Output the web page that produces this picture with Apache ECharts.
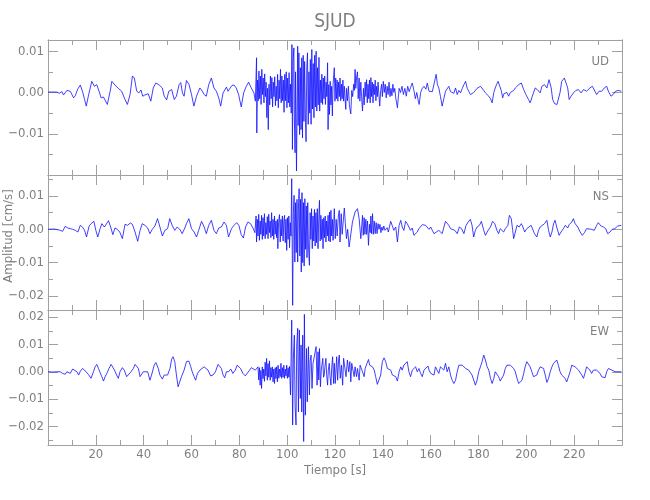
<!DOCTYPE html>
<html><head><meta charset="utf-8">
<script src="https://cdn.jsdelivr.net/npm/echarts@6/dist/echarts.min.js"></script>
<style>html,body{margin:0;padding:0;background:#fff}#c{width:650px;height:500px}</style>
</head><body><div id="c"></div>
<script>
// ---------- texts ----------
const chartTitle = 'SJUD';
const xName = 'Tiempo [s]';
const yName = 'Amplitud [cm/s]';
const components = ['UD', 'NS', 'EW'];

// ---------- axes (values in 10^-3 cm/s for y, seconds for x) ----------
const unit = 1e-3;
const timeRange = [0, 240];
const timeMajor = 20;
const udRange = [-19.98, 12.71];
const nsRange = [-24.2, 16.3];
const ewRange = [-26.8, 22.6];
const udMajor = [-10, 0, 10];
const udMinor = [-15, -5, 5];
const nsMajor = [-20, -10, 0, 10];
const nsMinor = [-15, -5, 5, 15];
const ewMajor = [-20, -10, 0, 10, 20];
const ewMinor = [-25, -15, -5, 5, 15];

// ---------- traces: [time s, amplitude 10^-3 cm/s] ----------
const udTrace = [[0,0.1],[3.7,0.1],[4.7,-0.2],[5.8,0.2],[6.5,-0.6],[7.9,0.5],[9.3,0.3],[10,0.6],[10.7,-1.3],[11.4,-0.8],[12.4,0.8],[13.5,1.8],[14.4,0.3],[15.3,-1.7],[16,-3.3],[17,-0.5],[18.3,2.7],[19.4,1.5],[20.4,1.9],[21.4,0.2],[22.2,-1.3],[23.2,-1.1],[24.8,-2.9],[26,0.3],[26.7,2.7],[28,1.8],[29.4,1.0],[30.8,0.3],[32.2,-1.7],[33.2,-2.9],[34.3,-0.5],[35.3,4.0],[36.1,3.5],[37.1,0.3],[38,-0.1],[38.9,0.6],[39.6,-0.9],[40.5,-0.6],[41.9,-0.3],[43,-2.1],[44,1.1],[45.1,2.3],[46.5,1.8],[47.8,1.1],[48.6,-0.9],[49.6,-1.8],[50.5,0.3],[51.7,0.7],[52.8,-1.7],[53.7,-0.9],[54.8,1.9],[55.5,2.4],[56.2,-0.1],[56.9,-0.9],[57.9,2.9],[59,1.9],[60,-0.5],[61,-3.3],[62.1,-0.9],[63.5,1.1],[64.2,0.6],[65.3,-0.5],[66.2,-0.9],[67.2,1.9],[68.3,3.5],[69.4,1.1],[70.4,0.3],[71.4,-1.3],[72.2,-3.3],[73.2,-0.1],[74.6,1.3],[75.3,0.3],[76.1,0.6],[76.9,1.7],[77.8,1.8],[78.7,1.1],[79.7,-0.5],[80.8,-3.5],[81.8,-0.1],[82.9,1.5],[83.9,2.5],[85,1.1],[86.1,-0.1],[86.7,-2.1],
[87.2,8.4],[87.3,-9.8],[87.6,3.0],[87.9,-2.0],[88.2,5.2],[88.5,-1.5],[88.8,4.0],[89.1,-2.9],[89.4,5.6],[89.7,-0.5],[90,3.5],[90.3,-2.5],[90.6,4.5],[90.9,-1.0],[91.2,2.5],[91.5,-6.1],[91.8,1.0],[92.1,-9.0],[92.4,2.0],[92.7,-3.0],[93,4.0],[93.3,-1.5],[93.6,3.6],[93.9,-3.5],[94.2,2.5],[94.5,-1.0],[94.8,3.8],[95.1,-3.2],[95.4,1.5],[95.7,-2.0],[96,4.4],[96.3,-3.7],[96.6,3.0],[96.9,-1.5],[97.2,5.6],[97.5,-2.5],[97.8,4.0],[98.1,-2.0],[98.4,3.0],[98.7,-4.8],[99,4.4],[99.3,-2.0],[99.6,5.0],[99.9,-3.7],[100.2,3.5],[100.5,-2.5],[100.8,4.8],[101.1,-3.5],[101.4,2.0],[101.7,-5.0],[102,11.6],[102.2,-13.8],[102.5,8.0],[102.8,10.8],[103,-6.0],[103.3,-14.6],[103.5,5.0],[103.9,-19.0],[104.4,11.2],[104.6,-8.0],[104.9,9.6],[105.2,-10.2],[105.5,6.0],[105.8,-9.0],[106.1,8.4],[106.4,-11.0],[106.7,9.0],[107,-7.0],[107.3,7.5],[107.6,-5.0],[107.9,-11.9],[108.2,6.0],[108.5,9.6],[108.8,-7.7],[109.1,5.0],[109.4,-5.0],[109.7,8.0],[110,-7.7],[110.3,10.4],[110.6,-4.0],[110.9,7.0],[111.2,-6.1],[111.5,9.0],[111.8,-3.5],[112.1,10.0],[112.4,-4.5],[112.7,6.0],[113,-3.0],[113.3,8.5],[113.6,-4.5],[113.9,3.0],[114.2,-2.5],[114.5,4.4],[114.8,-2.9],[115.1,3.5],[115.4,-1.5],[115.7,4.0],[116,-2.9],[116.3,2.5],[116.6,-1.0],[116.9,7.2],[117.1,-9.0],[117.4,1.9],[117.7,-5.3],[118,2.7],[118.3,-3.0],[118.6,1.5],[118.9,-5.7],[119.2,2.0],[119.7,6.0],[120,-2.1],[120.3,3.5],[120.6,-1.5],[120.9,3.0],[121.2,-2.1],[121.5,2.5],[121.8,-1.0],[122.1,3.5],[122.4,-2.0],[122.7,2.0],[123,-1.5],[123.3,3.0],[123.6,-2.1],[123.9,1.5],[124.5,-4.1],[124.8,1.0],[125.2,-2.0],[125.6,1.5],[126,-3.0],[126.6,-5.2],[127,0.5],[127.4,-1.0],[127.8,2.0],[128.1,0.5],[128.4,5.6],[128.7,1.0],[129,3.5],[129.4,5.0],[129.7,-1.5],[130.1,3.5],[130.4,-2.1],[130.8,2.5],[131.1,-1.0],[131.5,-4.5],[131.9,1.0],[132.2,-3.0],[132.6,2.5],[132.9,-1.0],[133.2,3.1],[133.5,-2.5],[133.8,2.0],[134.1,-1.5],[134.4,3.0],[134.7,-2.5],[135,3.6],[135.3,-1.0],[135.6,2.5],[135.9,-2.5],[136.2,2.0],[136.5,-0.5],[136.8,3.0],[137.1,-2.0],[137.4,1.5],[137.7,-1.0],[138,2.5],[138.7,-3.3],[139.1,0.5],[139.5,2.0],[139.8,-1.0],[140.2,2.7],[140.6,0.0],[141,2.0],[141.4,-1.3],[141.8,1.5],[142.2,-0.5],[142.6,2.5],[143,-1.0],[143.4,1.0],[143.8,-0.8],[144.2,2.0],[144.6,0.0],[145,1.0],[145.4,-1.3],[146.1,-3.7],[146.8,1.0],[147.4,0.0],[148,1.5],[148.6,-0.5],[149.2,1.0],[149.8,-0.9],[150.4,1.5],[151,0.2],[151.6,1.2],[152.3,2.3],[153,0.5],[153.6,-1.5],[154.2,0.0],[154.8,-2.0],[155.2,-2.9],[155.8,0.0],[156.5,1.0],[157.2,1.5],[158,0.8],[158.6,2.3],[159.3,0.3],[160,0.5],[160.7,0.2],[161.5,0.5],[162.3,4.4],[162.8,2.0],[163.4,1.1],[164.1,-1.0],[164.8,-3.3],[165.5,-1.5],[166.2,0.3],[166.9,0.0],[167.6,1.5],[168.3,0.2],[169,0.3],[169.7,-0.2],[170.4,1.1],[171.1,-0.5],[171.8,0.5],[172.5,-0.1],[173.2,1.0],[173.9,1.9],[174.6,2.7],[175.3,1.0],[175.9,0.3],[176.6,-0.5],[177.3,-0.9],[178,0.0],[178.7,0.3],[179.4,1.0],[180.1,1.1],[180.8,1.5],[181.5,1.9],[182.2,0.5],[182.9,-0.1],[183.6,-0.5],[184.3,-0.9],[185,-1.5],[185.7,-2.5],[186.4,0.0],[187,1.1],[187.6,2.0],[188.2,2.7],[188.9,1.5],[189.5,0.5],[190.1,-1.3],[190.6,-0.3],[191.2,-0.5],[191.9,0.0],[192.6,-0.9],[193.3,0.0],[194,-0.1],[194.7,0.5],[195.4,1.1],[196.1,1.5],[196.8,1.9],[197.9,2.3],[198.9,0.7],[199.8,-0.5],[200.9,-1.7],[201.6,-2.5],[202.5,-0.9],[203.7,1.1],[204.6,0.7],[205.8,-0.1],[206.5,1.5],[207.6,1.9],[208.6,1.1],[209.5,3.1],[210.4,1.1],[211,-1.7],[211.8,-2.7],[212.8,-2.9],[213.4,-2.5],[214.1,0.0],[214.8,2.7],[215.9,3.5],[216.5,3.1],[217.3,1.1],[217.9,-1.7],[218.7,-0.9],[219.7,-0.1],[220.7,0.5],[221.8,0.7],[222.9,-0.1],[223.9,0.7],[225.2,0.3],[226.6,1.1],[227.6,1.5],[228.7,0.3],[229.4,-0.5],[230.4,0.3],[231.5,0.3],[232.6,1.1],[233.6,1.5],[234.3,0.3],[235.4,-0.9],[236.3,-0.5],[237.3,0.3],[238.4,0.5],[239.7,0.3]];

const nsTrace = [[0,0.0],[2,0.1],[3.5,0.0],[5.1,-0.3],[6.1,-0.6],[7.2,0.9],[8.3,0.4],[9.3,0.2],[10.3,0.0],[11.4,-0.3],[12.5,-0.8],[13.5,1.2],[14.4,0.7],[15.3,-0.3],[16.1,-2.3],[17.2,1.0],[18,1.7],[19.2,2.4],[20,-0.3],[20.8,-2.3],[21.8,0.2],[22.5,1.7],[23.6,0.7],[24.4,1.2],[25.3,2.6],[26.2,0.7],[27.1,-1.6],[28,0.4],[29,0.0],[30,-0.8],[31.1,-2.8],[32.2,1.5],[33.3,1.2],[34.4,1.9],[35.3,1.5],[36.4,-0.8],[37.5,-3.6],[38.5,-0.3],[39.4,1.7],[40.5,1.2],[41.7,0.4],[42.6,-1.3],[43.6,0.0],[44.7,1.0],[45.8,3.2],[46.8,0.7],[47.8,-2.0],[48.9,-0.3],[50,0.2],[50.9,3.2],[51.9,1.2],[53,-0.3],[54,0.7],[55.1,0.0],[56.1,-1.3],[57.2,0.4],[57.9,1.7],[58.9,3.2],[60,0.2],[61.1,-0.8],[62.1,-2.3],[63,-0.3],[64.2,2.4],[65.3,0.7],[66.2,-1.3],[67.2,1.2],[68.3,2.7],[69.4,-0.3],[70.4,-1.3],[71.4,0.4],[72.5,0.7],[73.6,2.2],[74.6,1.2],[75.5,-2.3],[76.7,0.2],[77.8,1.2],[78.9,2.0],[79.8,1.2],[80.8,-1.6],[81.7,-2.6],[82.6,0.7],[83.6,2.2],[84.7,1.7],[85.7,0.4],[86.5,-1.0],
[87,4.0],[87.2,-3.8],[87.5,3.0],[87.8,-2.0],[88.1,4.5],[88.4,-3.3],[88.7,2.5],[89,-1.5],[89.3,4.2],[89.6,-3.0],[89.9,3.5],[90.2,-2.0],[90.5,4.7],[90.8,-2.8],[91.1,2.0],[91.4,-1.5],[91.7,3.8],[92,-2.8],[92.3,4.5],[92.6,-1.0],[92.9,2.5],[93.2,-2.5],[93.5,5.0],[93.8,-2.0],[94.1,3.0],[94.4,-3.0],[94.7,4.0],[95,-1.5],[95.3,2.5],[95.6,-2.5],[95.9,3.0],[96.1,-5.8],[96.4,2.0],[96.8,4.4],[97.1,-3.8],[97.4,3.0],[97.7,-2.0],[98,4.0],[98.3,-3.5],[98.6,2.5],[98.9,4.2],[99.2,-4.0],[99.5,3.0],[99.8,-6.3],[100.1,3.5],[100.4,-3.0],[100.7,4.0],[101,-5.5],[101.3,2.0],[101.6,-2.0],[101.9,15.2],[102.3,-22.8],[102.6,5.0],[102.9,10.2],[103.2,-9.8],[103.5,8.0],[103.8,-7.0],[104.1,9.0],[104.4,-9.8],[104.7,6.0],[105,12.2],[105.3,-8.0],[105.6,9.0],[105.9,-12.8],[106.2,11.0],[106.5,-10.0],[106.8,8.0],[107.1,-11.0],[107.4,9.2],[107.7,-6.0],[108,7.0],[108.3,-8.5],[108.6,8.0],[108.9,-5.0],[109.3,-10.8],[109.6,5.0],[109.9,-3.0],[110.2,6.2],[110.5,-5.8],[110.8,4.0],[111.1,-3.5],[111.4,6.0],[111.7,-5.0],[112,5.0],[112.3,-4.0],[112.6,6.2],[112.9,-5.8],[113.2,3.0],[113.5,8.7],[113.8,-3.5],[114.1,4.2],[114.4,-3.0],[114.7,3.0],[115,-5.8],[115.3,3.5],[115.6,-2.5],[115.9,4.0],[116.2,-3.8],[116.5,2.5],[116.8,-2.0],[117.1,4.2],[117.4,-3.5],[117.7,5.2],[118,-3.8],[118.3,5.7],[118.6,-2.0],[118.9,3.0],[119.2,-3.3],[119.7,6.2],[120.1,-2.8],[120.5,3.0],[120.9,-2.0],[121.4,4.0],[121.8,5.7],[122.1,-3.8],[122.6,4.7],[123,-1.5],[123.9,6.4],[124.3,2.0],[124.8,-2.8],[125.3,0.0],[125.9,-5.3],[126.6,-5.8],[127.3,2.2],[128.4,5.2],[129.4,6.2],[130.1,3.2],[130.8,-2.8],[131.5,4.2],[131.8,-1.8],[132.2,3.5],[132.5,-1.5],[132.9,3.0],[133.2,-1.5],[133.6,2.5],[134,-4.8],[134.4,1.5],[134.7,-1.0],[135,4.0],[135.3,-1.3],[135.7,4.7],[136,-1.5],[136.4,2.5],[136.8,-1.3],[137.2,2.0],[137.6,-1.3],[138,1.7],[138.4,0.0],[138.8,1.5],[139.2,-1.0],[139.6,0.7],[140,-0.3],[140.4,1.0],[140.9,-0.3],[141.2,-0.8],[141.8,0.5],[142.3,-0.8],[143.3,2.4],[143.9,1.2],[144.6,-0.3],[145.4,0.7],[146.1,-3.8],[146.8,1.2],[147.5,2.7],[148.1,0.7],[148.8,-0.3],[149.5,2.4],[150.2,1.7],[150.9,0.7],[151.6,-0.3],[152.3,0.4],[153,-1.8],[153.7,-2.3],[154.4,-0.8],[155.1,0.2],[156.5,1.4],[157.2,2.0],[157.9,1.2],[158.6,1.7],[159.3,0.0],[160,0.7],[160.7,-0.3],[161.4,-1.3],[162,-0.8],[163.4,-0.3],[164.8,-1.3],[165.5,-1.8],[166.2,2.4],[166.9,2.7],[167.6,1.2],[168.3,0.2],[169,0.4],[170.1,-0.3],[171.1,-1.3],[172,0.7],[172.9,0.2],[173.9,-1.3],[174.8,1.2],[175.7,2.2],[176.6,3.0],[177.3,1.2],[178,-2.3],[178.7,-0.3],[179.4,0.7],[180.4,1.2],[181.2,2.4],[182.2,-0.3],[182.9,-1.8],[184,-0.3],[185,0.7],[185.9,2.4],[186.8,1.7],[187.7,-0.3],[188.4,-1.3],[189.1,0.2],[189.8,0.7],[190.5,-0.8],[191.2,0.2],[192.3,1.2],[192.9,4.2],[193.7,3.2],[194.3,-0.3],[194.7,-2.8],[195.4,-0.8],[196.1,1.2],[197,0.7],[197.9,1.7],[198.4,1.0],[199.3,-0.8],[200.2,0.2],[200.9,0.7],[202,1.2],[202.6,1.7],[203.4,-1.3],[204.4,-2.3],[205.1,-0.3],[205.8,0.7],[206.5,1.2],[207.6,1.7],[208.6,2.7],[209.3,-0.3],[210,-2.3],[210.7,-0.8],[211.4,1.7],[212,2.7],[212.7,0.7],[213.7,-1.8],[214.5,-0.8],[215.5,0.2],[216.3,1.2],[217.3,0.4],[217.9,1.4],[219,2.2],[219.7,3.2],[220.4,1.7],[221.5,0.7],[222.5,-0.8],[223.4,-1.8],[224.3,-1.0],[225.2,0.2],[225.9,0.7],[227.3,0.0],[228.4,-0.3],[229.4,1.2],[230.1,2.0],[231.2,1.0],[232.2,0.7],[233.2,0.2],[234,-1.3],[235,-0.8],[235.9,0.0],[237,0.2],[238.2,1.0],[239.7,1.2]];

const ewTrace = [[0,0.0],[2,-0.1],[3.7,0.0],[4.4,0.6],[5.1,0.0],[6.1,-0.6],[7.2,-0.9],[7.9,0.0],[8.6,0.6],[9.3,-0.6],[10.3,1.0],[11.1,1.5],[12.1,0.0],[12.8,-1.2],[13.5,0.2],[14.4,1.2],[15.3,0.6],[15.8,0.0],[16.9,-1.0],[18,-2.4],[19,0.0],[19.7,1.8],[20.4,2.7],[21.1,1.2],[21.8,0.6],[22.5,-1.8],[23.2,-3.4],[23.9,-1.8],[24.6,-0.6],[25.5,1.2],[26.4,2.7],[27.1,2.7],[27.8,0.6],[28.7,-1.2],[29.4,-2.4],[30.1,0.0],[31.1,1.5],[31.9,0.6],[32.9,-1.8],[33.6,-1.5],[34.7,0.0],[35.7,1.2],[36.4,2.7],[37.1,3.1],[37.8,1.2],[38.5,-1.8],[39.2,-2.2],[39.8,0.0],[40.5,0.6],[41.7,0.0],[42.6,-3.1],[43.3,-1.2],[44.4,2.4],[45.1,3.4],[46.1,1.2],[46.8,-1.2],[47.8,-2.7],[48.6,-1.2],[49.2,-1.8],[50,-1.2],[51,1.2],[51.7,4.6],[52.3,5.5],[53,3.7],[53.7,-1.2],[54.4,-5.5],[55.1,-4.9],[55.8,-1.8],[56.9,0.6],[57.9,3.7],[58.9,3.9],[59.7,1.8],[60.3,0.0],[61.1,-1.8],[61.7,-3.1],[62.5,-0.6],[63.5,0.6],[64.2,0.2],[65.3,1.8],[65.8,2.2],[66.9,0.6],[68,-1.5],[69,-1.2],[70,0.0],[71.1,2.7],[71.8,3.1],[72.5,1.2],[73.2,-1.2],[73.9,-2.2],[74.6,0.0],[75.5,0.0],[76.4,1.0],[77.3,-0.6],[78.3,0.6],[79.1,2.4],[79.7,3.1],[80.5,1.2],[81.5,-0.6],[82.5,-1.5],[83.3,-1.0],[84.3,0.6],[85,1.5],[85.7,1.8],[86.7,0.6],[87.5,0.0],
[87.8,1.8],[88.1,-3.0],[88.4,1.5],[88.7,-4.9],[89,0.5],[89.3,-6.1],[89.6,1.8],[89.9,-2.5],[90.2,1.0],[90.5,-3.5],[90.8,3.5],[91.1,-1.5],[91.4,4.9],[91.7,-3.1],[92,3.0],[92.3,-2.0],[92.6,4.0],[92.9,-3.1],[93.2,1.5],[93.5,-2.0],[93.8,1.8],[94.1,-3.7],[94.4,1.0],[94.7,-4.3],[95,1.5],[95.3,-2.5],[95.6,1.8],[95.9,-3.7],[96.2,2.4],[96.5,-2.4],[96.8,1.0],[97.1,-1.8],[97.4,3.1],[97.7,-2.4],[98,1.5],[98.3,-2.0],[98.6,2.4],[98.9,-2.4],[99.2,1.0],[99.5,-1.5],[99.8,2.4],[100.1,-2.4],[100.4,1.5],[100.7,-2.0],[101,2.0],[101.4,-8.5],[101.9,18.9],[102.3,-19.5],[102.6,5.0],[103,13.4],[103.3,-12.2],[103.7,-19.5],[104,9.8],[104.4,15.9],[104.7,-14.7],[105.1,15.3],[105.5,-9.8],[105.8,9.8],[106.1,-14.7],[106.5,13.4],[106.9,-25.5],[107.2,21.0],[107.6,-15.9],[108.1,8.5],[108.4,-11.0],[108.9,9.2],[109.3,-8.5],[109.6,4.0],[110,6.1],[110.4,-6.1],[110.8,3.0],[111.4,3.1],[112.1,9.2],[112.5,-4.9],[112.9,7.3],[113.2,-3.0],[113.5,8.5],[113.9,-5.5],[114.3,1.0],[114.9,4.9],[115.2,-2.0],[115.5,-1.2],[115.8,2.0],[116.2,4.9],[116.5,-1.0],[116.9,-4.9],[117.2,0.5],[117.6,3.1],[117.9,-1.5],[118.3,-4.9],[118.6,1.0],[119,5.5],[119.4,-4.3],[119.7,3.1],[120.1,-4.3],[120.7,5.5],[121.1,-3.1],[121.5,4.3],[121.8,6.1],[122.2,-2.4],[122.7,2.4],[123.2,-4.9],[123.6,4.9],[124.3,5.1],[124.6,-1.8],[125.2,4.3],[125.7,0.0],[126.2,3.7],[126.6,-3.7],[127,3.1],[127.6,2.4],[128,-1.8],[128.4,1.8],[129,-1.8],[129.4,1.2],[130.1,-3.1],[130.5,2.4],[131.1,3.1],[131.5,0.0],[132.2,-1.8],[132.6,1.2],[133.3,0.6],[134,4.5],[134.5,2.4],[135,3.1],[135.7,1.8],[136.4,0.6],[137,-1.8],[137.7,-4.6],[138.4,-4.3],[139.1,-1.2],[139.8,3.7],[140.5,5.1],[141.2,3.7],[141.9,1.2],[142.6,1.8],[143.3,0.6],[144,-1.2],[144.7,-0.6],[145.4,-1.8],[146.1,-3.4],[146.8,0.0],[147.5,1.8],[148.1,0.6],[148.8,2.4],[149.3,3.1],[150.2,3.7],[150.9,0.0],[151.6,-1.8],[152.3,0.6],[153,1.2],[153.7,1.8],[154.4,0.0],[155.1,1.2],[155.8,-0.6],[156.5,-1.8],[157.2,0.6],[157.9,1.2],[158.9,2.1],[159.3,0.6],[160,-0.6],[160.7,0.0],[161.4,-1.2],[162,1.8],[162.7,0.6],[163.4,-0.6],[164.1,1.8],[165.5,0.6],[166.2,3.1],[166.9,0.0],[167.6,1.8],[168.3,-1.2],[169,-3.1],[169.7,-4.3],[170.4,-3.1],[171.1,0.0],[171.8,2.4],[172.5,3.1],[173.2,2.4],[173.9,1.8],[174.6,1.2],[175.2,1.8],[175.9,0.6],[176.6,0.0],[177.3,-1.2],[178,-1.8],[178.7,-4.9],[179.4,-3.1],[180.1,0.0],[180.8,1.8],[181.5,3.7],[182.2,6.1],[182.9,4.3],[183.6,1.8],[184.3,0.6],[185,-2.4],[185.7,-4.3],[186.4,-2.4],[187,0.0],[187.7,0.6],[188.4,-1.8],[189.1,-3.4],[189.8,-3.7],[190.5,-1.2],[191.2,1.2],[191.9,2.4],[192.6,3.1],[193.3,2.4],[194,1.8],[194.7,1.2],[195.4,0.0],[196.1,-2.4],[196.8,-4.3],[197.5,-4.9],[198.2,-3.1],[198.9,-0.6],[199.5,1.8],[200.2,3.7],[200.9,3.1],[201.6,1.8],[202.3,0.0],[203,-1.8],[203.7,-2.4],[204.4,-1.2],[205.1,0.6],[205.8,1.8],[206.5,2.4],[207.2,1.2],[207.9,-1.2],[208.6,-3.9],[209.3,-2.4],[210,0.0],[210.7,1.8],[211.4,3.1],[212,3.4],[212.7,4.3],[213.4,2.4],[214.1,0.0],[214.8,-1.2],[215.5,-1.8],[216.2,-2.4],[216.9,-3.7],[217.6,-3.1],[218.3,0.0],[219,2.4],[219.7,3.1],[220.4,1.8],[221.1,1.2],[221.8,0.6],[222.5,0.0],[223.2,-1.2],[223.9,-2.4],[224.5,-0.6],[225.2,1.8],[225.9,1.2],[226.6,0.6],[227.3,-0.6],[228,0.6],[228.7,1.2],[229.4,0.6],[230.1,0.0],[230.8,-0.6],[231.5,-1.8],[232.2,-2.4],[232.9,-2.2],[233.6,0.0],[234.3,1.2],[235,1.2],[235.7,0.6],[236.4,0.2],[237.1,0.0],[238.4,0.0],[239.7,0.0]];

// ---------- build ----------
const FF = "'Liberation Sans Narrow','DejaVu Sans Condensed','Liberation Sans',sans-serif";
const AX = '#a0a0a0', TX = '#808080', LINE = '#1010ff';
const panels = [
  {trace: udTrace, range: udRange, major: udMajor, minor: udMinor, top: 40},
  {trace: nsTrace, range: nsRange, major: nsMajor, minor: nsMinor, top: 175},
  {trace: ewTrace, range: ewRange, major: ewMajor, minor: ewMinor, top: 310}
];
const fmt = v => { const s = (Math.round(v / unit) * unit).toFixed(2); return s.charAt(0) === '-' ? '\u2212' + s.slice(1) : s; };
const grid = [], xAxis = [], yAxis = [], series = [];
panels.forEach((p, i) => {
  grid.push({left: 48, width: 574, top: p.top, height: 135});
  ['bottom', 'top'].forEach(pos => xAxis.push({
    type: 'value', gridIndex: i, position: pos, min: timeRange[0], max: timeRange[1], interval: timeMajor,
    axisLine: {show: true, onZero: false, lineStyle: {color: AX, width: 1}},
    axisTick: {show: true, inside: true, length: 10, lineStyle: {color: AX}},
    minorTick: {show: true, splitNumber: 2, length: 5, lineStyle: {color: AX}},
    axisLabel: {show: pos === 'bottom' && i === 2, showMinLabel: false, showMaxLabel: false, color: TX, fontSize: 13, fontFamily: FF, margin: 3},
    splitLine: {show: false}, minorSplitLine: {show: false}
  }));
  const mk = (pos, vals, len, lab) => ({
    type: 'value', gridIndex: i, position: pos, min: p.range[0] * unit, max: p.range[1] * unit,
    axisLine: {show: true, onZero: false, lineStyle: {color: AX, width: 1}},
    axisTick: {show: true, inside: true, length: len, customValues: vals.map(v => v * unit), lineStyle: {color: AX}},
    axisLabel: {show: lab, customValues: vals.map(v => v * unit), formatter: fmt, color: TX, fontSize: 13, fontFamily: FF, margin: 4},
    splitLine: {show: false}
  });
  yAxis.push(mk('left', p.major, 10, true), mk('left', p.minor, 5, false), mk('right', p.major, 10, false), mk('right', p.minor, 5, false));
  series.push({
    type: 'line', xAxisIndex: i * 2, yAxisIndex: i * 4, showSymbol: false, symbol: 'none',
    data: p.trace.map(d => [d[0], d[1] * unit]),
    lineStyle: {color: LINE, width: 0.8}, clip: true
  });
});
const graphic = [
  {type: 'text', x: 335, y: 22, style: {text: chartTitle, fill: TX, fontSize: 19, fontFamily: FF, align: 'center', verticalAlign: 'middle'}},
  {type: 'text', x: 335, y: 471, style: {text: xName, fill: TX, fontSize: 13, fontFamily: FF, align: 'center', verticalAlign: 'middle'}},
  {type: 'text', x: 9, y: 236, rotation: Math.PI / 2, style: {text: yName, fill: TX, fontSize: 13, fontFamily: FF, align: 'center', verticalAlign: 'middle'}}
];
components.forEach((c, i) => graphic.push({type: 'text', x: 609, y: panels[i].top + 22, style: {text: c, fill: TX, fontSize: 13, fontFamily: FF, align: 'right', verticalAlign: 'middle'}}));

const chart = echarts.init(document.getElementById('c'), null, {renderer: 'canvas'});
chart.setOption({animation: false, backgroundColor: '#fff', grid, xAxis, yAxis, series, graphic});
</script></body></html>
